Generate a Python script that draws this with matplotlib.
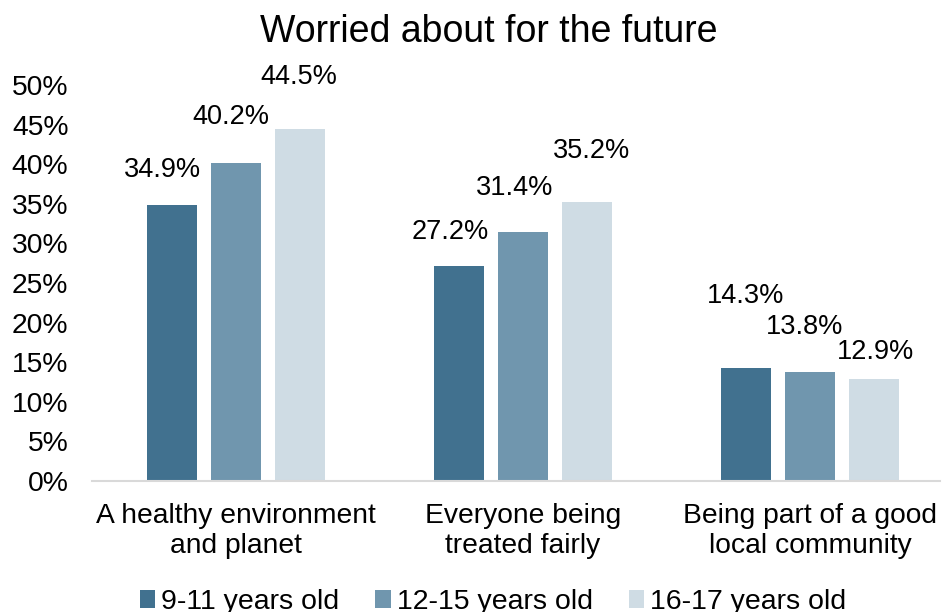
import numpy as np
import matplotlib.pyplot as plt

plt.rcParams['font.family'] = ['Liberation Sans', 'DejaVu Sans']

categories = ['A healthy environment\nand planet', 'Everyone being\ntreated fairly',
              'Being part of a good\nlocal community']
series = ['9-11 years old', '12-15 years old', '16-17 years old']
values_9_11 = [34.9, 27.2, 14.3]
values_12_15 = [40.2, 31.4, 13.8]
values_16_17 = [44.5, 35.2, 12.9]
colors = ['#41718F', '#7096AE', '#CFDCE4']

# label placement (manual, like the original): offsets in points, per series / category
label_dx = [[-7, -6, 0], [-4, -6, -4], [-1, 3, 1]]
label_dy = [[25, 24, 52], [33, 32, 32], [37, 37, 19]]

fig = plt.figure(figsize=(9.42, 6.12), dpi=100)
ax = fig.add_axes([92 / 942, 1 - 481 / 612, (940 - 92) / 942, (481 - 85) / 612])

x = np.arange(len(categories))
step = 0.223
width = 0.174
all_vals = [values_9_11, values_12_15, values_16_17]
for i, (vals, name) in enumerate(zip(all_vals, series)):
    bars = ax.bar(x + (i - 1) * step, vals, width, color=colors[i], label=name)
    for j, (b, v) in enumerate(zip(bars, vals)):
        ax.annotate(f'{v:.1f}%', (b.get_x() + b.get_width() / 2, v),
                    xytext=(label_dx[i][j], label_dy[i][j]), textcoords='offset points',
                    ha='center', va='center', fontsize=19.5)

ax.set_ylim(0, 50)
ax.set_xlim(-0.502, 2.453)
ax.set_yticks(range(0, 51, 5))
ax.set_yticklabels([f'{t}%' for t in range(0, 51, 5)])
ax.set_xticks(x)
ax.set_xticklabels(categories, linespacing=1.2)
ax.tick_params(axis='both', length=0, labelsize=20.3, colors='black')
ax.tick_params(axis='y', pad=17)
ax.tick_params(axis='x', pad=16)
for s in ['top', 'right', 'left']:
    ax.spines[s].set_visible(False)
ax.spines['bottom'].set_color('#D9D9D9')
ax.spines['bottom'].set_linewidth(1.5)

fig.text(489 / 942, 1 - 32 / 612, 'Worried about for the future', ha='center', va='center', fontsize=27)

fig.legend(loc='center', bbox_to_anchor=(493 / 942, 1 - 602 / 612), ncol=3, frameon=False,
           fontsize=20.5, handlelength=0.55, handleheight=0.55, handletextpad=0.2, columnspacing=1.27)

fig.savefig('out.png', dpi=100)
